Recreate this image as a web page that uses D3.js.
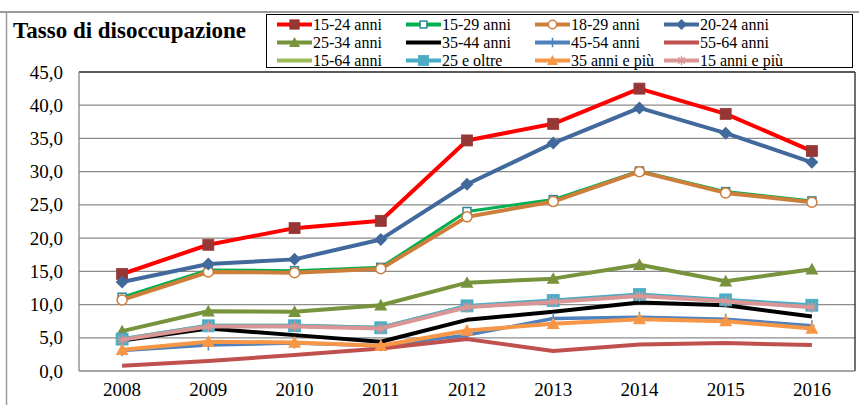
<!DOCTYPE html>
<html><head><meta charset="utf-8">
<script src="https://cdn.jsdelivr.net/npm/d3@7"></script>
<style>body{margin:0;background:#fff}svg{display:block}</style>
</head><body><svg id="c" width="859" height="405"></svg>
<script>
const years = ["2008","2009","2010","2011","2012","2013","2014","2015","2016"];
const yTicks = [0,5,10,15,20,25,30,35,40,45];
const s1524 = [14.6,19.0,21.5,22.6,34.7,37.2,42.5,38.7,33.1];
const s1529 = [11.1,15.2,15.1,15.6,24.0,25.8,30.1,27.0,25.6];
const s1829 = [10.7,14.9,14.8,15.4,23.2,25.5,30.0,26.8,25.4];
const s2024 = [13.4,16.1,16.8,19.8,28.1,34.3,39.6,35.8,31.4];
const s2534 = [6.0,9.0,8.9,9.9,13.3,13.9,16.0,13.5,15.3];
const s3544 = [4.6,6.4,5.4,4.4,7.7,8.9,10.3,9.9,8.2];
const s4554 = [3.1,3.9,4.2,3.8,5.4,7.9,8.1,7.8,6.8];
const s5564 = [0.8,1.5,2.4,3.4,4.8,3.0,4.0,4.2,3.9];
const s1564 = [4.8,6.8,6.8,6.5,9.7,10.5,11.4,10.6,9.7];
const s25ol = [4.8,6.8,6.8,6.5,9.8,10.6,11.5,10.7,9.9];
const s35pi = [3.2,4.4,4.3,3.8,6.1,7.1,7.8,7.5,6.4];
const s15pi = [4.7,6.7,6.7,6.4,9.6,10.4,11.3,10.5,9.6];

const series = [
 {name:"15-24 anni", v:s1524, color:"#FF0000", w:4, m:"square", mfill:"#953735", mstroke:"#953735", ms:11},
 {name:"15-29 anni", v:s1529, color:"#00B050", w:3, m:"square", mfill:"#fff", mstroke:"#31859C", ms:8},
 {name:"18-29 anni", v:s1829, color:"#CD7E3A", w:4, m:"circle", mfill:"#fff", mstroke:"#CD7E3A", ms:11},
 {name:"20-24 anni", v:s2024, color:"#41699C", w:4, m:"diamond", mfill:"#41699C", mstroke:"#41699C", ms:13},
 {name:"25-34 anni", v:s2534, color:"#77933C", w:4, m:"triangle", mfill:"#77933C", mstroke:"#77933C", ms:13},
 {name:"35-44 anni", v:s3544, color:"#000000", w:4, m:"none"},
 {name:"45-54 anni", v:s4554, color:"#4F81BD", w:3.5, m:"plus", mfill:"none", mstroke:"#4F81BD", ms:11},
 {name:"55-64 anni", v:s5564, color:"#C0504D", w:4, m:"none"},
 {name:"15-64 anni", v:s1564, color:"#9BBB59", w:4, m:"none"},
 {name:"25 e oltre", v:s25ol, color:"#4BACC6", w:4, m:"square", mfill:"#4BACC6", mstroke:"#4BACC6", ms:12},
 {name:"35 anni e più", v:s35pi, color:"#F79646", w:4, m:"triangle", mfill:"#F79646", mstroke:"#F79646", ms:13},
 {name:"15 anni e più", v:s15pi, color:"#D99694", w:4, m:"star", mfill:"none", mstroke:"#D99694", ms:11}
];

const FONT = "Liberation Serif";
const svg = d3.select("#c");
const L=79, R=855, T=72, B=371;
const x = d3.scaleBand().domain(years).range([L,R]).padding(0);
const y = d3.scaleLinear().domain([0,45]).range([B,T]);
const cx = d => x(d)+x.bandwidth()/2;

// outer frame
svg.append("line").attr("x1",0).attr("x2",859).attr("y1",12).attr("y2",12).attr("stroke","#9a9a9a").attr("stroke-width",2);
svg.append("line").attr("x1",6.5).attr("x2",6.5).attr("y1",12).attr("y2",405).attr("stroke","#9a9a9a").attr("stroke-width",1.5);

// title
svg.append("text").attr("x",13).attr("y",38).style("font-family",FONT).style("font-weight","bold").style("font-size","23px").text("Tasso di disoccupazione");

// gridlines
svg.append("g").selectAll("line").data(yTicks.filter(t=>t>0&&t<45)).join("line")
 .attr("x1",L).attr("x2",R).attr("y1",d=>y(d)).attr("y2",d=>y(d)).attr("stroke","#8c8c8c").attr("stroke-width",1.3);

// plot border
svg.append("line").attr("x1",L).attr("x2",R).attr("y1",T).attr("y2",T).attr("stroke","#222").attr("stroke-width",1.3);
svg.append("line").attr("x1",R).attr("x2",R).attr("y1",T).attr("y2",B).attr("stroke","#222").attr("stroke-width",1.3);
svg.append("line").attr("x1",L).attr("x2",R).attr("y1",B).attr("y2",B).attr("stroke","#868686").attr("stroke-width",1.3);
svg.append("line").attr("x1",L).attr("x2",L).attr("y1",T).attr("y2",B).attr("stroke","#868686").attr("stroke-width",1.3);

// axes labels
const yAxis = d3.axisLeft(y).tickValues(yTicks).tickSize(0).tickPadding(16).tickFormat(d=>d3.format(".1f")(d).replace(".",","));
const gy = svg.append("g").attr("transform",`translate(${L},0)`).call(yAxis);
gy.select(".domain").remove();
gy.selectAll("text").style("font-family",FONT).style("font-size","19px").attr("fill","#000");
const xAxis = d3.axisBottom(x).tickSize(0).tickPadding(12);
const gx = svg.append("g").attr("transform",`translate(0,${B})`).call(xAxis);
gx.select(".domain").remove();
gx.selectAll("text").style("font-family",FONT).style("font-size","19px").attr("fill","#000");

function marker(g, s, px, py, scale){
  const ms = s.ms*(scale||1);
  if(s.m==="square"){
    g.append("rect").attr("x",px-ms/2).attr("y",py-ms/2).attr("width",ms).attr("height",ms)
     .attr("fill",s.mfill).attr("stroke",s.mstroke).attr("stroke-width",s.mfill==="#fff"?1.5:0.8);
  } else if(s.m==="circle"){
    g.append("circle").attr("cx",px).attr("cy",py).attr("r",ms/2-0.5).attr("fill",s.mfill).attr("stroke",s.mstroke).attr("stroke-width",1.5);
  } else if(s.m==="diamond"){
    const h=ms/2;
    g.append("path").attr("d",`M${px},${py-h}L${px+h},${py}L${px},${py+h}L${px-h},${py}Z`).attr("fill",s.mfill);
  } else if(s.m==="triangle"){
    const h=ms/2;
    g.append("path").attr("d",`M${px},${py-h}L${px+h},${py+h*0.8}L${px-h},${py+h*0.8}Z`).attr("fill",s.mfill);
  } else if(s.m==="plus"){
    const h=ms/2;
    g.append("path").attr("d",`M${px},${py-h}V${py+h}M${px-h*0.5},${py}H${px+h*0.5}`).attr("stroke",s.mstroke).attr("stroke-width",1.5);
  } else if(s.m==="star"){
    const h=ms/2, k=h*0.707;
    g.append("path").attr("d",`M${px-k},${py-k}L${px+k},${py+k}M${px+k},${py-k}L${px-k},${py+k}M${px},${py-h}V${py+h}M${px-h},${py}H${px+h}`)
     .attr("stroke",s.mstroke).attr("stroke-width",1.3);
  }
}

const line = d3.line().x((d,i)=>cx(years[i])).y(d=>y(d));
const gl = svg.append("g");
series.forEach(s=>{
  const g = gl.append("g");
  g.append("path").attr("d",line(s.v)).attr("fill","none").attr("stroke",s.color).attr("stroke-width",s.w).attr("stroke-linejoin","round");
  s.v.forEach((v,i)=>marker(g,s,cx(years[i]),y(v)));
});

// legend
const lg = svg.append("g");
lg.append("rect").attr("x",266.5).attr("y",14.5).attr("width",586).attr("height",53).attr("fill","#fff").attr("stroke","#000").attr("stroke-width",1);
const colX=[277,406,535,664], rowY=[24.5,42.5,60.5];
series.forEach((s,i)=>{
  const cxl=colX[i%4], cyl=rowY[Math.floor(i/4)];
  lg.append("line").attr("x1",cxl).attr("x2",cxl+35).attr("y1",cyl).attr("y2",cyl).attr("stroke",s.color).attr("stroke-width",4);
  marker(lg,s,cxl+17.5,cyl,0.85);
  lg.append("text").attr("x",cxl+36).attr("y",cyl).attr("dy","0.35em").style("font-family",FONT).style("font-size","16px").text(s.name);
});
</script></body></html>
